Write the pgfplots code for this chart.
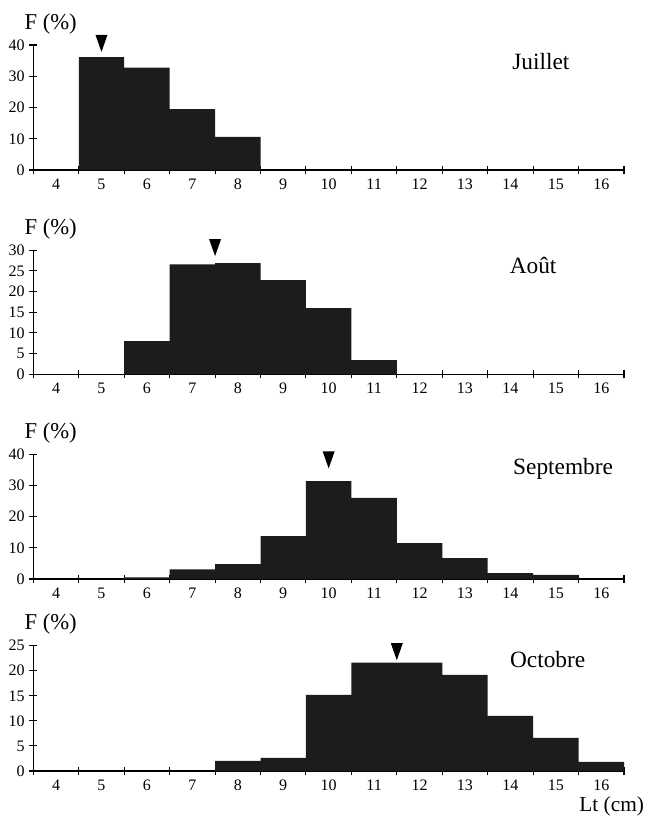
\documentclass[border=0pt]{standalone}
\usepackage{fontspec}
\setmainfont{Liberation Serif}
\usepackage{pgfplots}
\pgfplotsset{compat=1.18}

\definecolor{barfill}{RGB}{28,27,30}

% downward arrow, tip at the data point
\pgfdeclareplotmark{dtri}{%
  \pgfpathmoveto{\pgfpoint{0pt}{0pt}}%
  \pgfpathlineto{\pgfpoint{-4.5pt}{12.75pt}}%
  \pgfpathlineto{\pgfpoint{4.5pt}{12.75pt}}%
  \pgfpathclose\pgfusepathqfill}

\pgfplotsset{
  panel/.style={
    scale only axis, width=443pt,
    anchor=south west,
    xmin=3.5, xmax=16.5, ymin=0,
    axis x line*=bottom, axis y line*=left,
    xtick={3.5,4.5,...,16.5}, xticklabels={},
    extra x ticks={4,...,16},
    extra x tick labels={4,5,6,7,8,9,10,11,12,13,14,15,16},
    extra x tick style={major tick length=0pt, xticklabel style={yshift=-3pt}},
    tick align=center,
    major tick length=6pt,
    every tick/.style={black, line width=0.8pt},
    axis line style={line width=0.8pt},
    ticklabel style={font=\fontsize{12}{14}\selectfont},
    /pgf/number format/assume math mode=true,
    clip=false,
  },
  bars/.style={ybar interval, fill=barfill, draw=none},
  arrow/.style={only marks, mark=dtri, mark options={fill=black, draw=none}},
}
\newcommand{\Fpct}{\node[font=\fontsize{17}{19}\selectfont] at (rel axis cs:0,1) [xshift=13pt, yshift=16pt] {F (\%)};}
\newcommand{\mois}[3]{\node[font=\fontsize{17.5}{20}\selectfont] at (axis cs:#1,#2) {#3};}

\begin{document}
\begin{tikzpicture}
\path[use as bounding box] (0,0) rectangle (486pt,-614.25pt);

% Juillet
\begin{axis}[panel, at={(25pt,-127.5pt)}, height=93.75pt, ymax=40, ytick={0,10,...,40}]
\addplot[bars] coordinates {(4.5,36.1) (5.5,32.8) (6.5,19.5) (7.5,10.6) (8.5,0)};
\addplot[arrow] coordinates {(5,37.8)};
\Fpct
\mois{14.67}{34.8}{Juillet}
\end{axis}

% Aout
\begin{axis}[panel, at={(25pt,-280.7pt)}, height=93pt, ymax=30, ytick={0,5,...,30}]
\addplot[bars] coordinates {(5.5,8.05) (6.5,26.6) (7.5,26.9) (8.5,22.8) (9.5,16.0) (10.5,3.4) (11.5,0)};
\addplot[arrow] coordinates {(7.5,28.6)};
\Fpct
\mois{14.5}{26.3}{Août}
\end{axis}

% Septembre
\begin{axis}[panel, at={(25pt,-434.25pt)}, height=93.5pt, ymax=40, ytick={0,10,...,40}]
\addplot[bars] coordinates {(5.5,0.5) (6.5,3.1) (7.5,4.8) (8.5,13.8) (9.5,31.4) (10.5,26.0) (11.5,11.5) (12.5,6.7) (13.5,1.9) (14.5,1.3) (15.5,0)};
\addplot[arrow] coordinates {(10,35.5)};
\Fpct
\mois{15.16}{35.3}{Septembre}
\end{axis}

% Octobre
\begin{axis}[panel, at={(25pt,-578.25pt)}, height=94pt, ymax=25, ytick={0,5,...,25}]
\addplot[bars] coordinates {(7.5,2.0) (8.5,2.6) (9.5,15.2) (10.5,21.6) (11.5,21.6) (12.5,19.2) (13.5,11.0) (14.5,6.6) (15.5,1.8) (16.5,0)};
\addplot[arrow] coordinates {(11.5,22.1)};
\Fpct
\mois{14.82}{22.2}{Octobre}
\node[font=\fontsize{16}{18}\selectfont] at (axis cs:16.23,0) [yshift=-26.5pt] {Lt (cm)};
\end{axis}
\end{tikzpicture}
\end{document}
